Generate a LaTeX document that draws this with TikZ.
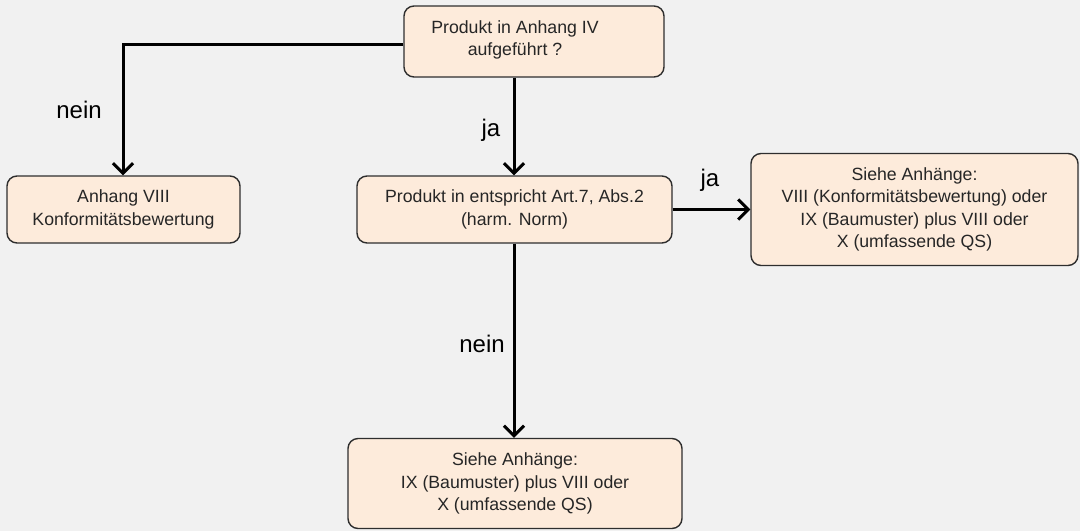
\documentclass[tikz,border=0pt]{standalone}
\usepackage{fontspec}
\setmainfont{Liberation Sans}
\usetikzlibrary{arrows.meta}
\definecolor{bg}{HTML}{F1F1F1}
\definecolor{boxfill}{HTML}{FDEBDB}
\definecolor{boxline}{HTML}{2E2E2E}
\tikzset{
  box/.style={draw=boxline, line width=1.4pt, fill=boxfill, rounded corners=10pt,
    align=center, font=\fontsize{17.7}{22.5}\selectfont, inner sep=0pt, text=black!85},
  boxtext/.style={align=center, font=\fontsize{17.7}{22.5}\selectfont, inner sep=0pt, text=black!85},
  conn/.style={line width=3pt, -{Straight Barb[length=10pt,width=20pt,line width=3pt]}},
  lbl/.style={font=\fontsize{24}{28}\selectfont, inner sep=0pt}
}
\begin{document}
\begin{tikzpicture}[x=1pt,y=-1pt]
\fill[bg] (0,0) rectangle (1080,531);
\useasboundingbox (0,0) rectangle (1080,531);
\node[box, minimum width=260pt, minimum height=71pt] (top) at (534,41.5) {};
\node[boxtext] (toptext) at (515,40) {Produkt in Anhang IV\\aufgeführt ?};
\node[box, minimum width=233pt, minimum height=67pt] (left) at (123.5,209.5) {Anhang VIII\\Konformitätsbewertung};
\node[box, minimum width=315pt, minimum height=67pt] (mid) at (514.5,209.5) {Produkt in entspricht Art.7, Abs.2\\(harm. Norm)};
\node[box, minimum width=327pt, minimum height=112pt] (right) at (914.5,209.5) {Siehe Anhänge:\\VIII (Konformitätsbewertung) oder\\IX (Baumuster) plus VIII oder\\X (umfassende QS)};
\node[box, minimum width=334pt, minimum height=90pt] (bot) at (515,483.5) {Siehe Anhänge:\\IX (Baumuster) plus VIII oder\\X (umfassende QS)};
\coordinate (tl) at (top.west |- 0,44);
\coordinate (bend) at (123,44);
\coordinate (tb) at (514,0 |- top.south);
\draw[conn, rounded corners=0pt] (tl) -- (bend) -- (left.north -| bend);
\draw[conn] (tb) -- (mid.north -| tb);
\draw[conn] (mid.east) -- (right.west);
\draw[conn] (mid.south -| tb) -- (bot.north -| tb);
\node[lbl] (l1) at (79,110) {nein};
\node[lbl] (l2) at (491,130) {ja};
\node[lbl] (l3) at (710,180) {ja};
\node[lbl] (l4) at (482,344) {nein};
\end{tikzpicture}
\end{document}
